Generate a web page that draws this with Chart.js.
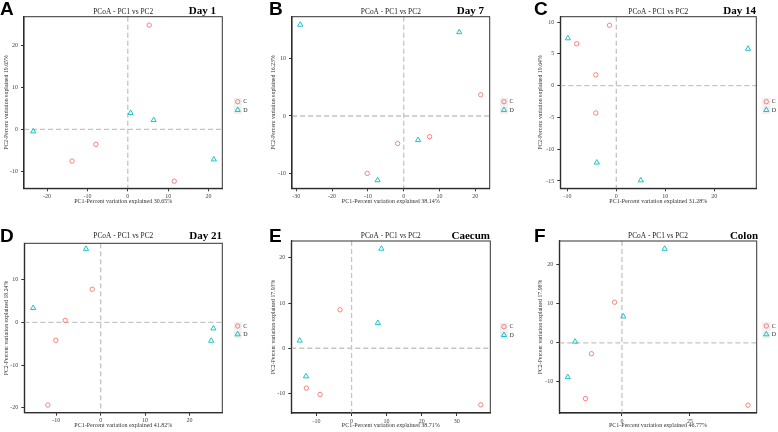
<!DOCTYPE html>
<html>
<head>
<meta charset="utf-8">
<script src="https://cdn.jsdelivr.net/npm/chart.js@4.4.0/dist/chart.umd.min.js"></script>
<style>
  body { margin: 0; background: #fff; width: 778px; height: 432px; position: relative; overflow: hidden; }
  canvas { position: absolute; }
</style>
</head>
<body>
<canvas id="pA" width="258" height="215" style="left:0;top:0"></canvas>
<canvas id="pB" width="260" height="215" style="left:258px;top:0"></canvas>
<canvas id="pC" width="260" height="215" style="left:518px;top:0"></canvas>
<canvas id="pD" width="258" height="217" style="left:0;top:215px"></canvas>
<canvas id="pE" width="260" height="217" style="left:258px;top:215px"></canvas>
<canvas id="pF" width="260" height="217" style="left:518px;top:215px"></canvas>
<script>
const groups = ["C", "D"];
const panelLetters = ["A", "B", "C", "D", "E", "F"];
const panelTags = ["Day 1", "Day 7", "Day 14", "Day 21", "Caecum", "Colon"];
const pc1Explained = ["30.65%", "38.14%", "31.28%", "41.82%", "38.71%", "46.77%"];
const pc2Explained = ["19.65%", "16.23%", "19.64%", "18.24%", "17.93%", "17.98%"];

// PCoA scores (PC1, PC2) per sample
const day1C_pc1 = [5.3, -7.9, -13.8, 11.5];
const day1C_pc2 = [24.9, -3.6, -7.6, -12.4];
const day1D_pc1 = [-23.4, 0.7, 6.4, 21.3];
const day1D_pc2 = [-0.5, 3.9, 2.2, -7.2];

const day7C_pc1 = [21.5, 7.2, -1.7, -10.2];
const day7C_pc2 = [3.7, -3.6, -4.8, -10.0];
const day7D_pc1 = [-28.9, 15.5, 4.0, -7.3];
const day7D_pc2 = [15.9, 14.6, -4.2, -11.2];

const day14C_pc1 = [-1.4, -8.1, -4.2, -4.2];
const day14C_pc2 = [9.5, 6.6, 1.7, -4.3];
const day14D_pc1 = [-9.9, 26.9, -4.0, 5.0];
const day14D_pc2 = [7.45, 5.8, -12.1, -14.9];

const day21C_pc1 = [-1.9, -8.0, -10.1, -11.9];
const day21C_pc2 = [7.8, 0.5, -4.2, -19.4];
const day21D_pc1 = [-3.3, -15.2, 25.4, 24.9];
const day21D_pc2 = [17.3, 3.4, -1.4, -4.3];

const caecumC_pc1 = [-3.3, -12.9, -9.0, 36.9];
const caecumC_pc2 = [8.5, -8.8, -10.2, -12.5];
const caecumD_pc1 = [8.5, 7.5, -14.8, -13.0];
const caecumD_pc2 = [22.0, 5.6, 1.7, -6.2];

const colonC_pc1 = [-2.7, -11.2, -13.4, 46.3];
const colonC_pc2 = [10.4, -2.8, -14.3, -16.0];
const colonD_pc1 = [15.7, 0.5, -17.2, -19.9];
const colonD_pc2 = [24.1, 6.75, 0.3, -8.8];

// axis ranges and tick values
const xRanges = [[-25.7, 23.4], [-31.2, 24.0], [-11.45, 28.6], [-17.2, 27.4], [-17.2, 39.6], [-23.0, 49.5]];
const yRanges = [[-14.1, 26.9], [-12.6, 17.3], [-16.15, 10.85], [-21.2, 18.6], [-14.3, 23.7], [-18.0, 26.1]];
const xTicks = [[-20, -10, 0, 10, 20], [-30, -20, -10, 0, 10, 20], [-10, 0, 10, 20], [-10, 0, 10, 20], [-10, 0, 10, 20, 30], [0, 25]];
const yTicks = [[-10, 0, 10, 20], [-10, 0, 10], [-15, -10, -5, 0, 5, 10], [-20, -10, 0, 10], [-10, 0, 10, 20], [-10, 0, 10, 20]];

const scores = [
  [day1C_pc1, day1C_pc2, day1D_pc1, day1D_pc2],
  [day7C_pc1, day7C_pc2, day7D_pc1, day7D_pc2],
  [day14C_pc1, day14C_pc2, day14D_pc1, day14D_pc2],
  [day21C_pc1, day21C_pc2, day21D_pc1, day21D_pc2],
  [caecumC_pc1, caecumC_pc2, caecumD_pc1, caecumD_pc2],
  [colonC_pc1, colonC_pc2, colonD_pc1, colonD_pc2],
];

const colC = "#F8766D";
const colD = "#00BFC4";
const serif = "'Liberation Serif', 'DejaVu Serif', serif";

// layout per panel (local canvas coords)
const layouts = [
  { id: "pA", w: 258, h: 215, area: [24, 16.7, 222.3, 188.3], yTitle: 2.5, xTitle: 9.6, letterX: 0, letterY: 15, tagR: 216, tagY: 13.5, titleY: 12.3, legX: 237.7, legY: 101.7 },
  { id: "pB", w: 260, h: 215, area: [34, 16.7, 231.7, 188.3], yTitle: 11.5, xTitle: 9.6, letterX: 11, letterY: 15, tagR: 226, tagY: 13.5, titleY: 12.3, legX: 246, legY: 101.7 },
  { id: "pC", w: 260, h: 215, area: [42.3, 16.7, 238.3, 188.3], yTitle: 19.2, xTitle: 9.6, letterX: 16, letterY: 15, tagR: 238, tagY: 13.5, titleY: 12.3, legX: 248.3, legY: 101.7 },
  { id: "pD", w: 258, h: 217, area: [24.3, 28.3, 222.3, 197.7], yTitle: 2.5, xTitle: 2.6, letterX: 0, letterY: 26.5, tagR: 222, tagY: 24, titleY: 20.7, legX: 237.7, legY: 111 },
  { id: "pE", w: 260, h: 217, area: [33.3, 26, 232.3, 198], yTitle: 11.5, xTitle: 2.6, letterX: 11, letterY: 26.5, tagR: 232, tagY: 24, titleY: 20.7, legX: 246, legY: 111.7 },
  { id: "pF", w: 260, h: 217, area: [41.3, 26, 238.7, 198], yTitle: 19.2, xTitle: 2.6, letterX: 16, letterY: 26.5, tagR: 240, tagY: 24, titleY: 20.7, legX: 248.3, legY: 111 },
];

Chart.defaults.font.family = serif;
Chart.defaults.color = "#333";

const toPoints = (xs, ys) => xs.map((x, i) => ({ x: x, y: ys[i] }));

const decor = {
  id: "decor",
  beforeDatasetsDraw(chart, args, opts) {
    const { ctx, chartArea: a, scales } = chart;
    const x0 = scales.x.getPixelForValue(0);
    const y0 = scales.y.getPixelForValue(0);
    ctx.save();
    ctx.strokeStyle = "#c4c4c4";
    ctx.lineWidth = 1.3;
    ctx.setLineDash([5, 3]);
    ctx.beginPath();
    ctx.moveTo(a.left, y0); ctx.lineTo(a.right, y0);
    ctx.moveTo(x0, a.top); ctx.lineTo(x0, a.bottom);
    ctx.stroke();
    ctx.restore();
  },
  afterDraw(chart, args, opts) {
    const { ctx, chartArea: a } = chart;
    ctx.save();
    // frame
    ctx.strokeStyle = "#333";
    ctx.lineWidth = 1;
    ctx.strokeRect(a.left, a.top, a.right - a.left, a.bottom - a.top);
    // title
    ctx.fillStyle = "#222";
    ctx.font = "7.4px " + serif;
    ctx.textAlign = "center";
    ctx.textBaseline = "middle";
    ctx.fillText("PCoA - PC1 vs PC2", (a.left + a.right) / 2, opts.titleY);
    // tag
    ctx.font = "bold 11px " + serif;
    ctx.textAlign = "right";
    ctx.textBaseline = "alphabetic";
    ctx.fillStyle = "#000";
    ctx.fillText(opts.tag, opts.tagR, opts.tagY);
    // panel letter
    ctx.font = "bold 19px 'Liberation Sans', Arial, sans-serif";
    ctx.textAlign = "left";
    ctx.fillText(opts.letter, opts.letterX, opts.letterY);
    // legend
    chart.data.datasets.forEach((ds, i) => {
      const y = opts.legY + i * 8.3;
      ctx.fillStyle = "#f0f0f0";
      ctx.fillRect(opts.legX - 4, y - 4, 8, 8);
      ctx.strokeStyle = ds.borderColor;
      ctx.lineWidth = ds.borderWidth;
      Chart.helpers.drawPoint(ctx, {
        pointStyle: ds.pointStyle, radius: ds.pointRadius, borderWidth: ds.borderWidth, rotation: 0
      }, opts.legX, y);
      ctx.fillStyle = "#333";
      ctx.font = "6px " + serif;
      ctx.textBaseline = "middle";
      ctx.fillText(ds.label, opts.legX + 5.5, y);
    });
    ctx.restore();
  },
};

layouts.forEach((p, k) => {
  const [cx, cy, dx, dy] = scores[k];
  new Chart(document.getElementById(p.id), {
    type: "scatter",
    data: {
      datasets: [
        { label: groups[0], data: toPoints(cx, cy), pointStyle: "circle", pointRadius: 2.2, borderWidth: 0.9, borderColor: colC, backgroundColor: "rgba(0,0,0,0)" },
        { label: groups[1], data: toPoints(dx, dy), pointStyle: "triangle", pointRadius: 3, borderWidth: 0.9, borderColor: colD, backgroundColor: "rgba(0,0,0,0)" },
      ],
    },
    options: {
      responsive: false,
      animation: false,
      devicePixelRatio: 1,
      events: [],
      layout: { padding: { left: 0, top: p.area[1], right: p.w - p.area[2], bottom: 0 } },
      plugins: {
        legend: { display: false },
        tooltip: { enabled: false },
        decor: { titleY: p.titleY, tag: panelTags[k], tagR: p.tagR, tagY: p.tagY, letter: panelLetters[k], letterX: p.letterX, letterY: p.letterY, legX: p.legX, legY: p.legY },
      },
      scales: {
        x: {
          type: "linear",
          min: xRanges[k][0],
          max: xRanges[k][1],
          afterBuildTicks: (s) => { s.ticks = xTicks[k].map((v) => ({ value: v })); },
          afterFit: (s) => { s.height = p.h - p.area[3]; s.paddingLeft = 0; s.paddingRight = 0; },
          grid: { drawOnChartArea: false, drawTicks: true, tickLength: 3, tickColor: "#333" },
          border: { display: true, color: "#222", width: 1.2 },
          ticks: { maxRotation: 0, autoSkip: false, padding: 1.5, color: "#444", font: { size: 6 }, callback: (v) => String(v) },
          title: { display: true, text: "PC1-Percent variation explained " + pc1Explained[k], color: "#333", font: { size: 6 }, padding: { top: 0, bottom: p.xTitle } },
        },
        y: {
          type: "linear",
          min: yRanges[k][0],
          max: yRanges[k][1],
          afterBuildTicks: (s) => { s.ticks = yTicks[k].map((v) => ({ value: v })); },
          afterFit: (s) => { s.width = p.area[0]; s.paddingTop = 0; s.paddingBottom = 0; },
          grid: { drawOnChartArea: false, drawTicks: true, tickLength: 3, tickColor: "#333" },
          border: { display: true, color: "#222", width: 1.2 },
          ticks: { autoSkip: false, padding: 3, color: "#444", font: { size: 6 }, callback: (v) => String(v) },
          title: { display: true, text: "PC2-Percent variation explained " + pc2Explained[k], color: "#333", font: { size: 5.8 }, padding: { top: p.yTitle, bottom: 0 } },
        },
      },
    },
    plugins: [decor],
  });
});
</script>
</body>
</html>
